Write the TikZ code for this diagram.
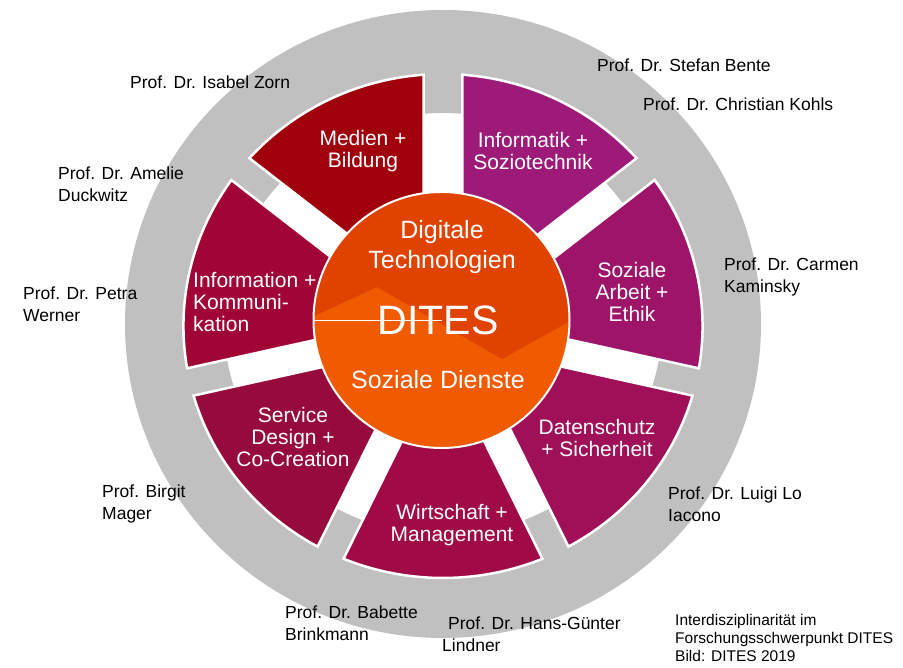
\documentclass[tikz,border=0pt]{standalone}
\usepackage{fontspec}
\setmainfont{Liberation Sans}
\definecolor{cRing}{HTML}{C0C0C0}
\definecolor{cMedien}{HTML}{A0000C}
\definecolor{cInformatik}{HTML}{9E1A78}
\definecolor{cSozial}{HTML}{9E1468}
\definecolor{cDatenschutz}{HTML}{A01058}
\definecolor{cWirtschaft}{HTML}{A00A46}
\definecolor{cService}{HTML}{970A3C}
\definecolor{cInformation}{HTML}{A00535}
\definecolor{cCoreDark}{HTML}{E04300}
\definecolor{cCoreLight}{HTML}{F05A00}
% start angle, half gap, end angle, half gap, colour
\newcommand{\fieldsector}[5]{%
  \fill[#5,draw=white,line width=2.5pt]
    ({#1+asin(#2/60)}:60) -- ({#1+asin(#2/252)}:252)
    arc[start angle={#1+asin(#2/252)},end angle={#3-asin(#4/252)},radius=252]
    -- ({#3-asin(#4/60)}:60) -- cycle;}
\tikzset{
  field/.style={text=white,align=center,inner sep=0pt,font=\fontsize{21}{22}\selectfont},
  coretext/.style={text=white,align=center,inner sep=0pt,font=\fontsize{25}{30}\selectfont},
  prof/.style={anchor=west,align=left,inner sep=0pt,font=\fontsize{17.5}{22}\selectfont}
}
\begin{document}
\begin{tikzpicture}[x=1pt,y=1pt]
\useasboundingbox (0,0) rectangle (903,668);
% grey ring
\fill[cRing,even odd rule] (443,344) ellipse[x radius=318,y radius=314]
  (443,344) ellipse[x radius=219,y radius=211];
% seven fields
\begin{scope}[shift={(443,342)},xscale=1.03]
\fieldsector{38.5714}{14}{90}{18.7}{cInformatik}
\fieldsector{-12.8571}{14}{38.5714}{14}{cSozial}
\fieldsector{-64.2857}{14}{-12.8571}{14}{cDatenschutz}
\fieldsector{-115.7143}{14}{-64.2857}{14}{cWirtschaft}
\fieldsector{-167.1429}{14}{-115.7143}{14}{cService}
\fieldsector{141.4286}{14}{192.8571}{14}{cInformation}
\fieldsector{90}{18.7}{141.4286}{14}{cMedien}
\end{scope}
% centre
\node[circle,minimum size=256pt,inner sep=0pt] (core) at (441.5,348) {};
\begin{scope}
\clip (core.center) circle (128);
\fill[cCoreLight] (core.center) circle (128);
\fill[cCoreDark] (300,345.5) -- (377,381) -- (502,309) -- (590,358) |- (300,480) -- cycle;
\end{scope}
\draw[white,line width=2pt] (core.center) circle (128);
\draw[white,line width=0.6pt] (core.west) -- (core.center);
\node[coretext] (digital) at (442,421) {Digitale\\Technologien};
\node[coretext,font=\fontsize{41}{45}\selectfont] (dites) at (438,348) {DITES};
\node[coretext] (dienste) at (438,288) {Soziale Dienste};
% field labels
\node[field] (medien) at (363,517) {Medien +\\Bildung};
\node[field] (informatik) at (533,517) {Informatik +\\Soziotechnik};
\node[field] (sozial) at (632,376) {Soziale\\Arbeit +\\Ethik};
\node[field] (datenschutz) at (597,230) {Datenschutz\\+ Sicherheit};
\node[field] (wirtschaft) at (452,143) {Wirtschaft +\\Management};
\node[field] (service) at (293,231) {Service\\Design +\\Co-Creation};
\node[field,align=left,anchor=west] (information) at (193,365.5) {Information +\\Kommuni-\\kation};
% professors
\node[prof] (zorn) at (130,586) {Prof. Dr. Isabel Zorn};
\node[prof] (bente) at (597,603) {Prof. Dr. Stefan Bente};
\node[prof] (kohls) at (643,564) {Prof. Dr. Christian Kohls};
\node[prof] (duckwitz) at (58,484) {Prof. Dr. Amelie\\Duckwitz};
\node[prof] (werner) at (23,364) {Prof. Dr. Petra\\Werner};
\node[prof] (kaminsky) at (724,391) {Prof. Dr. Carmen\\Kaminsky};
\node[prof] (mager) at (102,164) {Prof. Birgit\\Mager};
\node[prof] (iacono) at (668,164) {Prof. Dr. Luigi Lo\\Iacono};
\node[prof] (brinkmann) at (285,45) {Prof. Dr. Babette\\Brinkmann};
\node[prof] (lindner) at (442,33.5) {\hspace*{6pt}Prof. Dr. Hans-Günter\\Lindner};
\node[prof,font=\fontsize{15.5}{18}\selectfont] (caption) at (675,30)
  {Interdisziplinarität im\\Forschungsschwerpunkt DITES\\Bild: DITES 2019};
\end{tikzpicture}
\end{document}
